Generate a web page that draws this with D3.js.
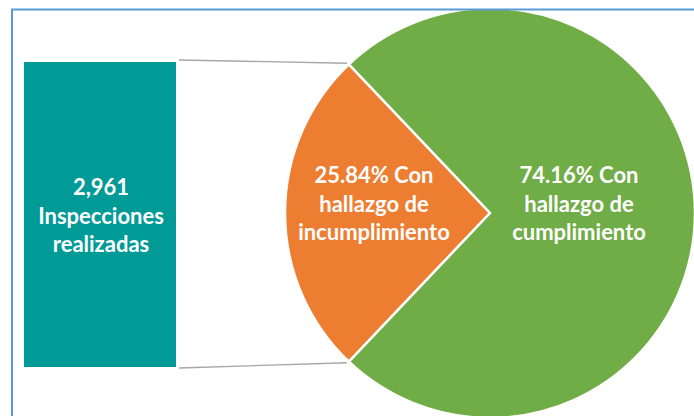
<!DOCTYPE html>
<html>
<head>
<meta charset="utf-8">
<script src="https://cdn.jsdelivr.net/npm/d3@7"></script>
<style>
  html, body { margin: 0; padding: 0; background: #fff; }
  svg { display: block; }
</style>
</head>
<body>
<div class="canvas"></div>
<script>
// data
const categories = ['Con hallazgo de incumplimiento', 'Con hallazgo de cumplimiento'];
const shares = [25.84, 74.16];
const colors = ['#ed7d31', '#70ad47'];
const sliceLabels = [
  ['25.84% Con', 'hallazgo de', 'incumplimiento'],
  ['74.16% Con', 'hallazgo de', 'cumplimiento']
];
const boxLabel = ['2,961', 'Inspecciones', 'realizadas'];

const width = 694, height = 416;

const svg = d3.select('.canvas')
  .append('svg')
  .attr('width', width)
  .attr('height', height);

// pie geometry
const cx = 490, cy = 213, radius = 205;
const orangeSpan = shares[0] / d3.sum(shares) * 2 * Math.PI;
const start = -Math.PI / 2 - orangeSpan / 2;

const pie = d3.pie()
  .sort(null)
  .value(d => d)
  .startAngle(start)
  .endAngle(start + 2 * Math.PI);

const arc = d3.arc().innerRadius(0).outerRadius(radius);
const arcs = pie(shares);

const graph = svg.append('g')
  .attr('transform', `translate(${cx}, ${cy})`);

graph.selectAll('path')
  .data(arcs)
  .enter()
  .append('path')
  .attr('d', arc)
  .attr('fill', (d, i) => colors[i])
  .attr('stroke', '#fff')
  .attr('stroke-width', 2.5)
  .attr('stroke-linejoin', 'miter');

// teal box
const box = { x: 24, y: 62, w: 152, h: 305 };
svg.append('rect')
  .attr('x', box.x)
  .attr('y', box.y)
  .attr('width', box.w)
  .attr('height', box.h)
  .attr('fill', '#009a97');

// connector lines from box to the small slice's edges
const pt = a => [cx + radius * Math.sin(a), cy - radius * Math.cos(a)];
const topEnd = pt(arcs[0].endAngle);   // upper-left tip
const botEnd = pt(arcs[0].startAngle); // lower-left tip
svg.append('line')
  .attr('x1', box.x + box.w + 3).attr('y1', box.y - 2)
  .attr('x2', topEnd[0] - 2).attr('y2', topEnd[1] - 1)
  .attr('stroke', '#a6a6a6').attr('stroke-width', 1.3);
svg.append('line')
  .attr('x1', box.x + box.w + 3).attr('y1', box.y + box.h + 1)
  .attr('x2', botEnd[0] - 2).attr('y2', botEnd[1] + 1)
  .attr('stroke', '#a6a6a6').attr('stroke-width', 1.3);

// texts
const font = 'Lato, "Open Sans", sans-serif';
function block(x, y0, lines) {
  const t = svg.append('text')
    .attr('text-anchor', 'middle')
    .attr('fill', '#fff')
    .attr('font-family', font)
    .attr('font-weight', 'bold')
    .attr('font-size', 22);
  lines.forEach((s, i) => {
    t.append('tspan').attr('x', x).attr('y', y0 + i * 28.5).text(s);
  });
}
block(101, 195, boxLabel);
block(374, 183, sliceLabels[0]);
block(579, 183, sliceLabels[1]);

// blue frame
svg.append('path')
  .attr('d', `M12,${height} L12,9.5 L${width},9.5`)
  .attr('fill', 'none')
  .attr('stroke', '#5b9bd5')
  .attr('stroke-width', 2);
</script>
</body>
</html>
